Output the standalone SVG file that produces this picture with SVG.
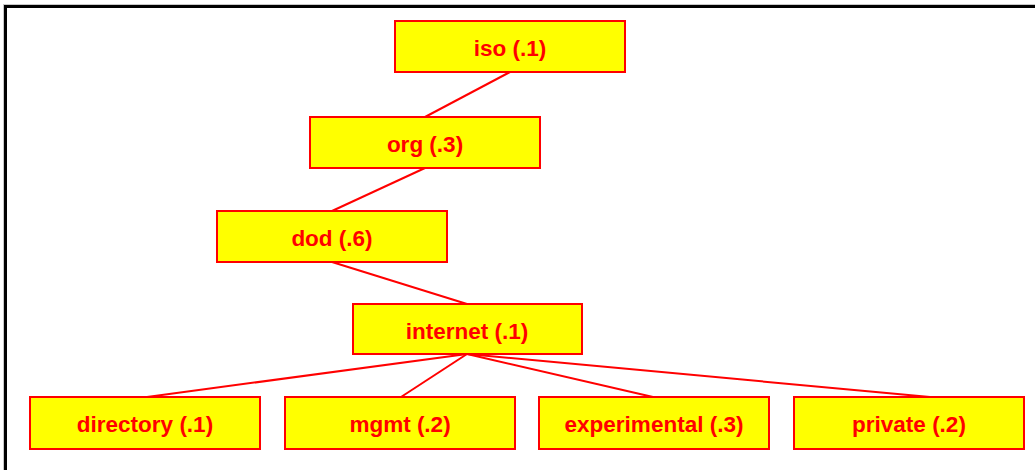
<svg xmlns="http://www.w3.org/2000/svg" width="1035" height="470" viewBox="0 0 1035 470">
  <style>
    .box { fill: #ffff00; stroke: #ff0000; stroke-width: 2; }
    .lbl { font-family: "Liberation Sans", Arial, sans-serif; font-weight: bold; font-size: 22.5px; fill: #ff0000; text-anchor: middle; dominant-baseline: central; }
    .link { stroke: #ff0000; stroke-width: 2; fill: none; }
  </style>
  <rect width="1035" height="470" fill="#ffffff"/>
  <!-- frame: top and left edges only -->
  <line x1="3" y1="4.5" x2="1035" y2="4.5" stroke="#c8c8c8" stroke-width="1"/>
  <line x1="3.5" y1="4" x2="3.5" y2="470" stroke="#c8c8c8" stroke-width="1"/>
  <line x1="4" y1="6.5" x2="1035" y2="6.5" stroke="#000000" stroke-width="3"/>
  <line x1="5.5" y1="5" x2="5.5" y2="470" stroke="#000000" stroke-width="3"/>

  <g id="connectors">
    <line class="link" x1="510" y1="72" x2="425" y2="117"/>
    <line class="link" x1="425" y1="168" x2="332" y2="211"/>
    <line class="link" x1="332" y1="262" x2="467" y2="304"/>
    <line class="link" x1="467" y1="354" x2="147" y2="397"/>
    <line class="link" x1="467" y1="354" x2="401" y2="397"/>
    <line class="link" x1="467" y1="354" x2="653" y2="397"/>
    <line class="link" x1="467" y1="354" x2="930" y2="397"/>
  </g>

  <g id="iso">
    <rect class="box" x="395" y="21" width="230" height="51"/>
    <text class="lbl" x="510" y="48.5">iso (.1)</text>
  </g>
  <g id="org">
    <rect class="box" x="310" y="117" width="230" height="51"/>
    <text class="lbl" x="425" y="144.5">org (.3)</text>
  </g>
  <g id="dod">
    <rect class="box" x="217" y="211" width="230" height="51"/>
    <text class="lbl" x="332" y="238.5">dod (.6)</text>
  </g>
  <g id="internet">
    <rect class="box" x="353" y="304" width="229" height="50"/>
    <text class="lbl" x="467" y="331">internet (.1)</text>
  </g>
  <g id="directory">
    <rect class="box" x="30" y="397" width="230" height="52"/>
    <text class="lbl" x="145" y="424.5">directory (.1)</text>
  </g>
  <g id="mgmt">
    <rect class="box" x="285" y="397" width="230" height="52"/>
    <text class="lbl" x="400" y="424.5">mgmt (.2)</text>
  </g>
  <g id="experimental">
    <rect class="box" x="539" y="397" width="230" height="52"/>
    <text class="lbl" x="654" y="424.5">experimental (.3)</text>
  </g>
  <g id="private">
    <rect class="box" x="794" y="397" width="230" height="52"/>
    <text class="lbl" x="909" y="424.5">private (.2)</text>
  </g>
</svg>
